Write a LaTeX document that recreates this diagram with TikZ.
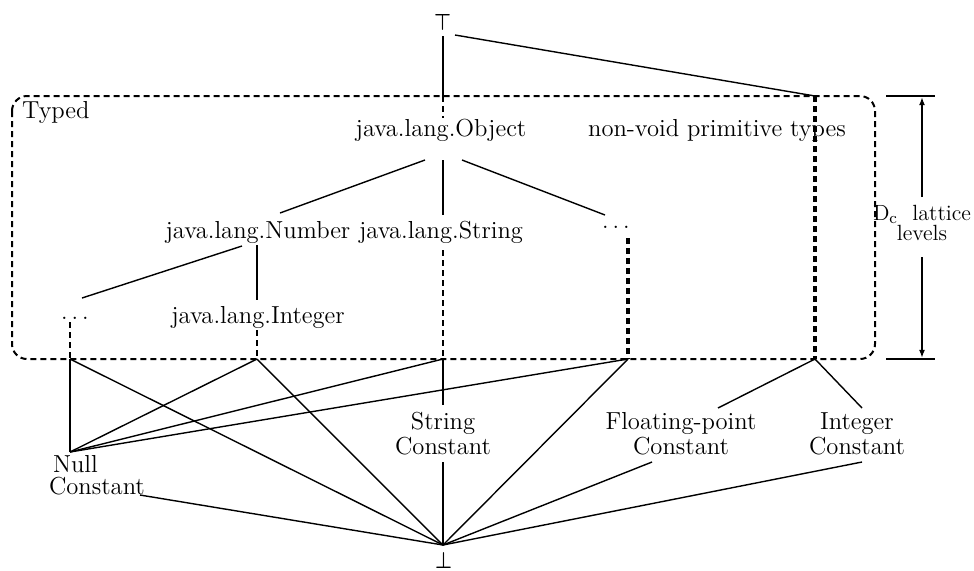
\documentclass[tikz,border=0pt]{standalone}
\usepackage{graphicx}
\usetikzlibrary{arrows.meta,calc}
\begin{document}
\begin{tikzpicture}[x=0.5pt,y=-0.5pt,
  font=\fontsize{12.3}{11}\selectfont,
  lbl/.style={inner sep=0pt,outer sep=0pt},
  thin/.style={line width=0.7pt},
  thick/.style={line width=1.4pt},
  dsh/.style={line width=1.1pt,dash pattern=on 3pt off 2pt},
  dshthick/.style={line width=1.6pt,dash pattern=on 3pt off 2pt},
  boxline/.style={line width=1.0pt,dash pattern=on 3pt off 2pt,rounded corners=7.5pt},
  small/.style={font=\fontsize{11}{7}\selectfont}]
\useasboundingbox (0,0) rectangle (974,570);

% box
\draw[boxline] (12,96) rectangle (875,359);
\node[lbl,anchor=base west] (typed) at (22,118) {Typed};

% nodes
\node[lbl] (top) at (442.5,22) {\resizebox{8.5pt}{8pt}{\boldmath$\top$}};
\node[lbl] (bot) at (443.5,560.5) {\resizebox{8.5pt}{8pt}{\boldmath$\bot$}};
\node[lbl,anchor=base] (obj) at (441,136) {java.lang.Object};
\node[lbl,anchor=base] (prim) at (717,136) {non-void primitive types};
\node[lbl,anchor=base] (num) at (258,238) {java.lang.Number};
\node[lbl,anchor=base] (str) at (441,238) {java.lang.String};
\node[lbl,anchor=base] (dotsR) at (616,228) {$\ldots$};
\node[lbl,anchor=base] (dotsL) at (75,319) {$\ldots$};
\node[lbl,anchor=base] (int) at (258,323) {java.lang.Integer};
\node[lbl,align=left,anchor=base west] (nullc) at (49,494) {\hspace*{2pt}Null\\Constant};
\node[lbl,align=center,anchor=base] (strc) at (443,454) {String\\Constant};
\node[lbl,align=center,anchor=base] (fpc) at (681,454) {Floating-point\\Constant};
\node[lbl,align=center,anchor=base] (intc) at (857,454) {Integer\\Constant};
\node[lbl,small,align=center] (dc) at (922,223) {D$_{\mathrm{c}}$\ \ lattice\\levels};

% coordinates
\coordinate (tS) at (443,36);
\coordinate (tR) at (455,35);
\coordinate (boxT) at (443,96);
\coordinate (pT) at (815,96);
\coordinate (cL) at (70,359);
\coordinate (cI) at (257,359);
\coordinate (cS) at (443,359);
\coordinate (cR) at (628,359);
\coordinate (cP) at (815,359);
\coordinate (np) at (70,452);
\coordinate (bp) at (443,545);
\coordinate (objS) at (443,118);
\coordinate (objB) at (443,160);
\coordinate (objL) at (425,160);
\coordinate (objR) at (462,160);
\coordinate (strT) at (443,215);
\coordinate (strB) at (443,250);
\coordinate (numR) at (280,213);
\coordinate (numL) at (242,246);
\coordinate (numB) at (257,245);
\coordinate (intT) at (257,300);
\coordinate (intB) at (257,330);
\coordinate (dLT) at (82,298);
\coordinate (dLB) at (70,322);
\coordinate (dRT) at (605,215);
\coordinate (dRB) at (628,238);
\coordinate (scT) at (443,405);
\coordinate (scB) at (443,462);
\coordinate (ncE) at (140,495);
\coordinate (fpT) at (718,408);
\coordinate (fpB) at (652,462);
\coordinate (icT) at (862,408);
\coordinate (icB) at (862,462);
\coordinate (mT) at (922,96);
\coordinate (mTa) at (922,197);
\coordinate (mBa) at (922,257);
\coordinate (mB) at (922,359);

% upper connectors
\draw[thin] (tS) -- (boxT);
\draw[dsh] (boxT) -- (objS);
\draw[thin] (tR) -- (pT);
\draw[dshthick] (pT) -- (cP);
\draw[thin] (objB) -- (strT);
\draw[dsh] (strB) -- (cS);
\draw[thin] (objL) -- (numR);
\draw[thin] (objR) -- (dRT);
\draw[thin] (numL) -- (dLT);
\draw[thin] (numB) -- (intT);
\draw[dsh] (dLB) -- (cL);
\draw[dsh] (intB) -- (cI);
\draw[dshthick] (dRB) -- (cR);

% lower connectors
\draw[thick] (cL) -- (np);
\draw[thin] (np) -- (cI);
\draw[thin] (np) -- (cS);
\draw[thin] (np) -- (cR);
\draw[thin] (cL) -- (bp);
\draw[thin] (cI) -- (bp);
\draw[thin] (cR) -- (bp);
\draw[thin] (cS) -- (scT);
\draw[thin] (scB) -- (bp);
\draw[thin] (ncE) -- (bp);
\draw[thin] (fpB) -- (bp);
\draw[thin] (icB) -- (bp);
\draw[thin] (cP) -- (fpT);
\draw[thin] (cP) -- (icT);

% measure
\draw[thick] (886,96) -- (935,96);
\draw[thick] (886,359) -- (935,359);
\draw[thin,-{Latex[length=4pt,width=3pt]}] (mTa) -- ([yshift=-0.6pt]mT);
\draw[thin,-{Latex[length=4pt,width=3pt]}] (mBa) -- ([yshift=0.6pt]mB);
\end{tikzpicture}
\end{document}
